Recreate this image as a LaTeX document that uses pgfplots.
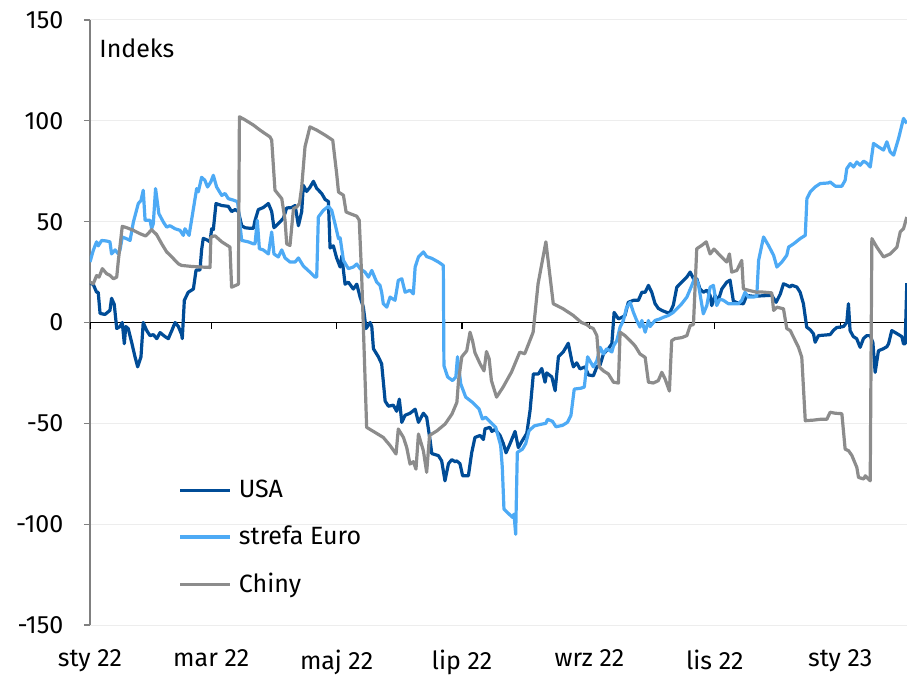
\documentclass[border=0pt]{standalone}
\usepackage{fontspec}
\setmainfont{Fira Sans}
\usepackage{pgfplots}
\pgfplotsset{compat=1.18}
\definecolor{usa}{HTML}{004C97}
\definecolor{euro}{HTML}{4DAAF5}
\definecolor{chiny}{HTML}{8C8C8C}
\begin{document}
\fontsize{12.5}{15}\selectfont
\begin{tikzpicture}
\begin{axis}[
 scale only axis, width=408.5pt, height=302.5pt,
 xmin=0, xmax=397.5, ymin=-150, ymax=150,
 axis y line*=left, axis x line*=bottom,
 x axis line style={draw=none},
 y axis line style={draw=gray, line width=0.7pt},
 xtick={0,59,120,181,243,304,365},
 xticklabels={sty 22, mar 22, maj 22, lip 22, wrz 22, lis 22, sty 23},
 xtick style={draw=none},
 ytick={-150,-100,-50,0,50,100,150},
 yticklabels={-150,-100,-50,0,50,100,150},
 ytick style={draw=gray, line width=0.6pt},
 tick align=outside, major tick length=3pt,
 ymajorgrids, grid style={black!7, line width=0.5pt},
 tick label style={font=\fontsize{12.5}{15}\selectfont},
 xticklabel style={yshift=-5pt},
 yticklabel style={xshift=-6pt},
 legend style={at={(rel axis cs:0.108,0.244)}, anchor=north west, draw=none, fill=none,
   row sep=10.3pt, inner sep=0pt, font=\fontsize{12.5}{15}\selectfont,
   nodes={inner sep=1pt}},
 legend cell align=left,
 legend image code/.code={\draw[#1, line width=1.6pt] (0pt,0pt) -- (25pt,0pt); \path (27.5pt,0pt);},
 every axis plot/.append style={line width=1.6pt, line join=round},
]
\coordinate (bl) at (rel axis cs:0,0);
\coordinate (tr) at (rel axis cs:1,1);
\draw[black, line width=0.6pt] (axis cs:0,0) -- (axis cs:397.5,0);
\pgfplotsinvokeforeach{0,59,120,181,243,304,365}{\draw[black, line width=0.6pt] (axis cs:#1,0) -- ([yshift=-3pt]axis cs:#1,0);}
\node[anchor=west, inner sep=0pt] at (rel axis cs:0.011,0.954) {Indeks};

\addplot[usa] coordinates {
(0,19.5)(1.6,18.9)(3.2,15)(4,15)(4.9,4.5)(7.3,4)(9.7,6)(10.5,12)(11.8,9)(13,-3)(14.6,-2)(15.7,0)(16.7,-10.5)(17.4,-2)(18.6,-3)(20.3,-10)(21.9,-17)(23.2,-22)(24.8,-17)(25.9,0)(27.6,-4)(29.2,-6.5)(30.8,-6)(32.5,-8)(34.1,-5)(36.5,-7)(38.1,-8)(39.8,-4)(41.4,0)(43,-2)(44.6,-6)(44.9,-8)(45.9,11)(47.8,15)(50.3,16.6)(51.6,26)(53.5,26)(54.3,36)(55.1,41.7)(56.8,41)(58.4,40)(59.2,46.5)(60,46)(61.3,59)(64.1,58)(67.3,57.6)(68.9,55)(70.6,56)(72.2,55)(73.8,48)(75.4,47)(77.9,46.7)(79.5,46.7)(80.3,50.6)(81.9,56)(84.3,57)(86.8,59)(88.4,55)(89.5,47)(91.6,49)(94.1,51.7)(95.7,56.8)(98.1,57)(99.8,58)(101.4,48)(103,55)(103.8,68)(105.4,65)(107,67)(108.7,70)(110.3,66.5)(112.7,64)(114.4,61)(116,60)(116.8,37)(118.4,38)(120,32)(121.7,27.5)(122.5,33)(124.1,19)(125.7,20)(128.1,16.6)(129.8,19)(131.4,12.6)(133,7.6)(134.3,-3)(136.3,0)(137.1,-2)(137.9,-13)(140.3,-17)(141.9,-20.5)(143.6,-39)(145.2,-41.5)(147.6,-41)(149.2,-44)(150.5,-38)(151.7,-49.5)(153.3,-46)(155.7,-45)(158.2,-43)(159.8,-49.5)(162.2,-45)(163.8,-47)(165.5,-58.6)(166.3,-65)(169.5,-66)(171.1,-68.6)(172.7,-78.5)(174.4,-70)(176,-68)(177.6,-69)(178.4,-68.6)(180,-70)(181.3,-76)(184.1,-76)(185.7,-64.6)(187.3,-57)(189.8,-56)(191.4,-58)(192.2,-52.7)(194.6,-52)(195.5,-54)(197.1,-53)(199.5,-56)(201.1,-60)(202.4,-64.6)(204.4,-60)(206.8,-54)(208.4,-62)(210.1,-59)(212.5,-55)(214.1,-43.7)(215.7,-25.5)(218.2,-25.5)(219.8,-22.8)(221.4,-29.6)(222.2,-25)(224.7,-27)(226.3,-33.8)(227.9,-17)(230.3,-14.5)(232.7,-10.3)(234.4,-19)(235.2,-22)(236.8,-20)(238.4,-23)(240.9,-22)(242.5,-26)(244.9,-26.4)(246.6,-22)(248.2,-21)(249.8,-15.6)(252.2,-13)(253.9,-10.5)(255,5)(257.1,1.8)(258.7,2.5)(260.3,3.5)(261.9,10)(264.4,11)(266.8,11)(268.5,15)(270.1,15)(271.7,18.4)(273.3,15)(274.9,9.4)(276.5,7)(278.2,6)(280.6,5)(282.2,5)(283.8,8.6)(285.5,17.5)(287.9,20)(290.4,22.6)(292,25)(293.6,21.7)(295.2,21.7)(296.8,16.6)(298.4,15)(300.1,16)(301.7,13.4)(302.5,8.4)(304.1,13.4)(305.7,11)(307.4,16.6)(309.8,20)(311.4,21)(313,10.7)(315.5,9.5)(317.9,9.3)(319.5,13.4)(322.8,13)(331.7,13.5)(333.8,10)(335.8,14)(337.4,19.2)(339,18.5)(340.6,17.6)(341.4,18.5)(343.9,17.6)(345.5,15)(347.1,9.3)(348.7,-2.3)(350.4,-3.6)(352,-5.6)(352.8,-9.8)(354.4,-6.5)(360.1,-6)(361.7,-3.9)(363.3,-2.5)(366.6,-2)(368.2,0)(369,9.3)(369.8,-4)(371.4,-7)(373,-8)(374.7,-12.3)(376.3,-8)(377.9,-6.5)(379.6,-6.5)(380.9,-10)(382,-24.7)(383.6,-14)(386,-13)(387.7,-12)(388.5,-10.6)(390.1,-4)(392.6,-5.5)(395,-7)(395.8,-10.6)(396.6,-10.6)(397.4,19.5)
};
\addlegendentry{USA}

\addplot[euro] coordinates {
(0,30)(1.6,35.8)(3.2,40)(4,38)(5.7,40.7)(8.1,40.4)(9.7,40)(10.5,34)(12.2,36)(13.8,34)(14.6,36)(15.7,42.4)(17.9,41.5)(19.5,40.7)(21.1,49.8)(23.5,59)(24.8,60.5)(25.9,65.6)(26.8,50.7)(29.2,50.7)(30,46.5)(30.8,49)(31.9,66.4)(33.5,54)(35.7,49.8)(37.3,47.3)(38.9,48)(41.4,46.5)(43.8,45.7)(45.4,43.2)(46.2,46.5)(48.2,43.2)(49.4,50.7)(51.9,66.4)(52.7,64.8)(54.3,72)(55.9,70.5)(57.2,67.2)(58.8,69.7)(60,73)(61.6,67.2)(64.1,63)(65.7,64)(67.3,61.4)(69.7,60.7)(71.8,59.9)(73.8,40.7)(77,40)(79.5,39)(80.3,39)(81.4,50.7)(82.4,36.6)(84.3,36)(86.8,34)(88.4,44.9)(89.5,34)(91.6,32.5)(93.3,36)(94.9,32)(97.3,30)(99.8,30)(101.4,32)(103.8,28)(107,25)(109.5,22.5)(110.3,22.5)(111.1,52.3)(113.5,55.6)(116,57.6)(117.6,55.6)(119.2,49)(120.9,41.6)(121.7,42)(123.3,30.8)(125.7,26.7)(128.1,27.5)(129.8,29)(131.4,26.7)(133.8,25)(135.5,22.5)(137.1,25.8)(139.5,20)(141.1,18.4)(141.9,15)(142.7,9.3)(144.4,7.6)(146,12.6)(148.4,11)(150,20.9)(151.7,21.7)(153.3,15)(155.7,16)(157.3,14.2)(158.2,27.5)(159.8,32.5)(162.2,35)(163.8,32.7)(166.3,31.8)(169.5,30)(171.9,28.3)(172.2,-21.4)(174,-27)(176.4,-28.8)(178,-27)(178.8,-17)(180.4,-30.5)(182.8,-37)(186.1,-39.6)(189.3,-42.9)(190.9,-47.8)(192.5,-47)(194.9,-49.5)(197.4,-52)(199.8,-61)(200.6,-71.9)(201.4,-92.5)(203.9,-95)(205.5,-96.6)(206.3,-95)(207.1,-105)(207.9,-64.4)(210.4,-62.8)(212,-60)(213.6,-53.7)(216.1,-51.3)(219.3,-50.5)(221.8,-50)(222.6,-48)(225,-49)(226.7,-51.7)(229.9,-51)(232.3,-49.5)(234,-46)(235.6,-33)(238.8,-32.6)(240.5,-32)(242.1,-17)(244.9,-22)(246.6,-19)(248.2,-12.3)(249.8,-15.6)(251.4,-13)(253.9,-14.6)(254.7,-11.6)(256.3,-9)(257.9,-2.3)(259.5,1)(261.1,7.6)(262.8,10)(264.4,5)(266,1)(267.6,-2.3)(268.5,1)(270.1,-4.8)(271.7,1)(272.5,-2)(274.9,1)(277.3,1.8)(279,2.6)(281.4,3.5)(283.8,5)(285.5,6.8)(287.9,9.3)(290.4,12.6)(292.8,18.4)(294.4,22.5)(296,19)(298.4,4.3)(300.1,8.4)(301.7,17.5)(303.3,18.4)(304.9,8.4)(306.5,11.6)(308.2,11)(310.6,9.3)(313,9.3)(315.5,9.3)(317.1,11)(318.7,15)(320.3,12.6)(322.8,12.6)(324.4,13)(325.3,30.8)(327.7,42.4)(330.1,38.2)(332.6,33.3)(334.2,27.5)(336.6,30)(339,33.3)(339.9,37.4)(342.3,39)(345.5,41.6)(348,43.2)(348.8,61.4)(350.4,64.7)(352.8,67.2)(355.3,68.9)(359.3,69.2)(360.1,69.7)(362.6,67.6)(365.8,67.6)(367.4,70.5)(368.2,76.3)(369.9,78.8)(371.5,77.1)(373.1,79.6)(374.7,78)(376.4,80)(378,79)(379.6,77.1)(381.2,88.8)(383.6,87.1)(386.1,85.5)(387.7,89.6)(389.3,84.6)(391,83)(393.4,91.3)(395.8,101.2)(397.4,98.7)
};
\addlegendentry{strefa Euro}

\addplot[chiny] coordinates {
(0,20)(1.6,19.2)(3.2,23.3)(4.4,22.5)(6,26.7)(8.1,24.2)(9.7,23.4)(11.4,21.7)(13,22.5)(13.8,30.8)(15.7,47.7)(17.9,47)(21.1,45.7)(24.4,44)(27.1,42.9)(30,46)(32.4,43.6)(34.9,39)(37.3,35)(39.8,32.5)(43,29.1)(44.6,28.3)(49.5,27.8)(54.3,27.5)(58.4,27.3)(58.8,42.4)(60.8,43)(64.1,40)(68.1,37.4)(68.9,17.5)(72.2,19)(72.7,102)(75.4,100.5)(79.5,97.9)(82.7,95.4)(87.6,92)(88.4,90.4)(90,65.6)(93.3,61.4)(94.9,50.7)(95.7,39)(97.3,38.2)(99,56.5)(100.6,57.3)(101.9,59)(103,67.2)(104.6,87.1)(107,97)(110.3,95.4)(114.4,92.9)(118.1,90.4)(120,73.9)(120.9,64.7)(123.3,63.1)(124.6,54.8)(126.5,54)(129.8,52.7)(131,50.7)(132.2,22.5)(133,-2.3)(134.6,-52)(138.7,-54.5)(142.7,-57)(146,-61)(148.9,-65.2)(150,-52.8)(152.5,-57)(154.1,-62)(155.7,-70.2)(157.3,-69)(158.6,-72.7)(159.8,-55.3)(162.2,-63.6)(163.8,-74.3)(165.2,-56)(168.8,-53.7)(172.8,-50.3)(176.1,-45.4)(178.5,-39.6)(179.3,-28.8)(180.9,-17)(183.3,-14)(184.9,-4.8)(186.1,-9)(187.3,-15)(189.8,-20.5)(191.7,-24)(192.9,-14.4)(194.2,-18)(195.3,-28.8)(197.8,-37)(201,-32)(205.1,-24.5)(209.1,-14.7)(211.5,-15.5)(214,-9)(215.6,-4.8)(218,19.2)(221.8,40)(225.4,9.3)(230.2,6.8)(235.1,3.5)(239.1,0)(241.6,-1)(243.3,-2.3)(244.9,-3)(246.6,-6.5)(247.8,-22)(249.8,-24)(252.2,-25.5)(254.7,-29.6)(257.1,-30)(257.9,-4.8)(260.3,-6.5)(262.8,-9)(265.2,-11.6)(267.6,-15.6)(270.1,-17.3)(271.7,-29.6)(274.1,-30)(276.5,-28.8)(278.2,-24.7)(279.8,-28)(281.9,-34)(283,-9)(284.6,-8)(287.9,-7.5)(290.4,-6.5)(292,-1.5)(293.6,-1)(295.2,36.6)(297.6,38.2)(299.8,40)(301.7,34)(303.6,36.4)(306.5,33.3)(309.8,30)(311.1,34)(312.2,25)(314.7,25.8)(317.1,30.8)(317.9,16.7)(320.3,16)(324.4,15)(326.1,15.2)(331.7,14.7)(332.6,6)(334.2,7.6)(337.4,6.8)(339,-3)(340.7,-4)(342.3,-7.3)(344.7,-12.3)(346.3,-17.2)(348,-48.7)(352,-48.4)(355.3,-48)(358.5,-48)(360.1,-44.5)(362.6,-45)(365.8,-45.2)(367.4,-62.8)(369.1,-63.6)(370.7,-66)(373.1,-71.9)(373.9,-76.8)(376.4,-77.6)(377.2,-76)(379.6,-78.5)(380.4,41.6)(382.8,37.4)(386.1,32.5)(389.3,34)(392.6,37.4)(394.2,44.9)(395.8,46.5)(397.4,52.3)
};
\addlegendentry{Chiny}
\end{axis}
\pgfresetboundingbox
\path[use as bounding box] ([xshift=-45pt,yshift=-25pt]bl) rectangle ([yshift=10pt]tr);
\end{tikzpicture}
\end{document}
